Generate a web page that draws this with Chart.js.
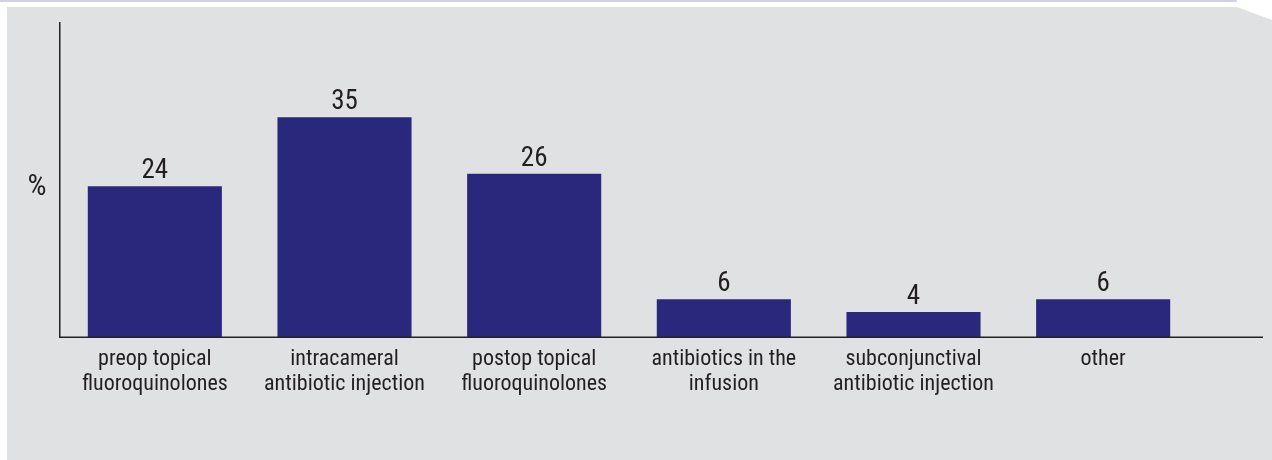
<!DOCTYPE html>
<html>
<head>
<meta charset="utf-8">
<script src="https://cdn.jsdelivr.net/npm/chart.js@4/dist/chart.umd.min.js"></script>
<style>
  html, body { margin: 0; padding: 0; background: #ffffff; }
  #wrap { position: relative; width: 1272px; height: 460px; }
</style>
</head>
<body>
<div id="wrap"><canvas id="chart" width="1272" height="460"></canvas></div>
<script>
// Antibiotic prophylaxis methods reported (%)
const categories = [
  ['preop topical', 'fluoroquinolones'],
  ['intracameral', 'antibiotic injection'],
  ['postop topical', 'fluoroquinolones'],
  ['antibiotics in the', 'infusion'],
  ['subconjunctival', 'antibiotic injection'],
  ['other']
];
const percentages = [24, 35, 26, 6, 4, 6];
const axisUnit = '%';

const FONT = '"Liberation Sans Narrow", "Arial Narrow", "Roboto Condensed", "DejaVu Sans Condensed", sans-serif';
const TEXT = '#231f20';
const BAR = '#2a287c';
const PANEL = '#e0e1e3';

// Panel background with top strip and clipped top-right corner
const panelPlugin = {
  id: 'panel',
  beforeDraw(chart) {
    const ctx = chart.ctx;
    const w = chart.width, h = chart.height;
    ctx.save();
    ctx.fillStyle = '#ffffff';
    ctx.fillRect(0, 0, w, h);
    ctx.fillStyle = '#d2d2e6';
    ctx.fillRect(0, 0, 1237, 2);
    ctx.fillStyle = PANEL;
    ctx.beginPath();
    ctx.moveTo(7, 7);
    ctx.lineTo(1237, 7);
    ctx.lineTo(w, 20);
    ctx.lineTo(w, h);
    ctx.lineTo(7, h);
    ctx.closePath();
    ctx.fill();
    ctx.restore();
  }
};

// Baseline (runs past the last category), unit label and value labels
const labelPlugin = {
  id: 'labels',
  afterDraw(chart) {
    const ctx = chart.ctx;
    const area = chart.chartArea;
    const xScale = chart.scales.x;
    ctx.save();
    ctx.strokeStyle = '#222';
    ctx.lineWidth = 1.5;
    ctx.beginPath();
    ctx.moveTo(area.left - 0.75, xScale.top + 0.25);
    ctx.lineTo(1263, xScale.top + 0.25);
    ctx.stroke();

    ctx.fillStyle = TEXT;
    ctx.font = '30px ' + FONT;
    ctx.textAlign = 'center';
    ctx.textBaseline = 'middle';
    ctx.fillText(axisUnit, 37, 187);

    ctx.font = '27px ' + FONT;
    ctx.textBaseline = 'alphabetic';
    const meta = chart.getDatasetMeta(0);
    meta.data.forEach((bar, i) => {
      ctx.fillText(String(percentages[i]), bar.x, bar.y - 8);
    });
    ctx.restore();
  }
};

new Chart(document.getElementById('chart'), {
  type: 'bar',
  data: {
    labels: categories,
    datasets: [{
      data: percentages,
      backgroundColor: BAR,
      borderWidth: 0,
      barPercentage: 0.707,
      categoryPercentage: 1.0
    }]
  },
  options: {
    responsive: false,
    animation: false,
    layout: { padding: { top: 23, right: 74, left: 0, bottom: 0 } },
    plugins: { legend: { display: false }, tooltip: { enabled: false } },
    scales: {
      x: {
        grid: { display: false, drawTicks: false },
        border: { display: false },
        ticks: {
          color: TEXT,
          font: { family: FONT, size: 22, lineHeight: 1.14 },
          padding: 10,
          maxRotation: 0,
          autoSkip: false
        },
        afterFit(scale) { scale.height = 123; }
      },
      y: {
        min: 0,
        max: 50,
        grid: { display: false, drawTicks: false },
        border: { display: true, color: '#222', width: 1.5 },
        ticks: { display: false },
        afterFit(scale) { scale.width = 60; }
      }
    }
  },
  plugins: [panelPlugin, labelPlugin]
});
</script>
</body>
</html>
